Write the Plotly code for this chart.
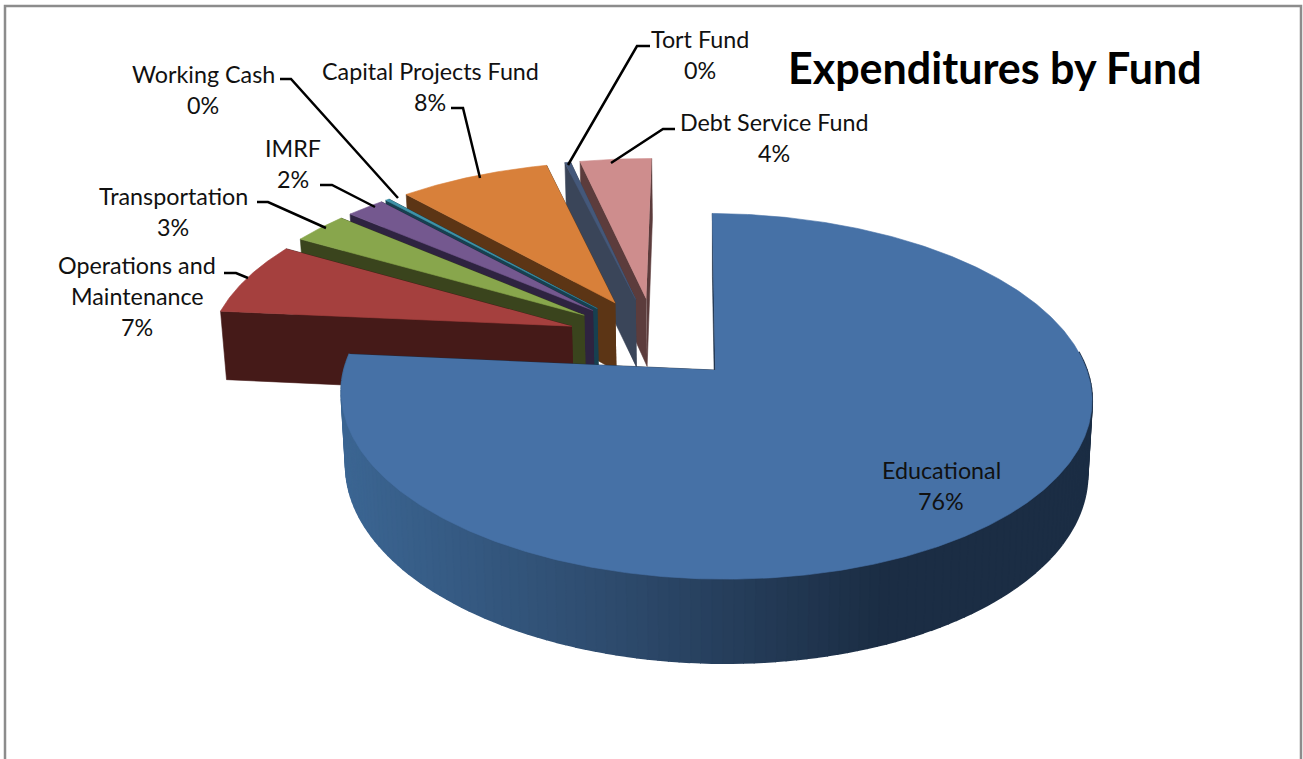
import numpy as np
import plotly.graph_objects as go

# Data, clockwise from the top of the pie
funds = ["Educational", "Operations and Maintenance", "Transportation", "IMRF",
         "Working Cash", "Capital Projects Fund", "Tort Fund", "Debt Service Fund"]
values = [76.0, 6.8, 2.9, 2.0, 0.2, 7.8, 0.3, 3.7]
pct_labels = [76, 7, 3, 2, 0, 8, 0, 4]
title_text = "Expenditures by Fund"

# Style
top_colors = ["#4671a6", "#a5403e", "#88a64c", "#74588f", "#3f93a8", "#d8803a", "#44587a", "#ce8d8d"]
side_colors = ["#1b2d44", "#451a18", "#3a441d", "#2e2340", "#174050", "#5c3515", "#3a4559", "#5c3c3c"]
FONT = "Lato, Carlito, sans-serif"

# Projection of the exploded pie to the page
R, PULL = 362.0, 88.0
P, K = 0.14, 0.47
XO, YO = 655.0, 338.5
HEIGHT = 70.0
SQUEEZE, XV = 0.012, 718.0
START = 0.8


def project(X, Y, low=False):
    X, Y = np.asarray(X, float), np.asarray(Y, float)
    s = 1.0 / (1.0 + P * Y / R)
    x = XO + X * s
    y = YO - K * Y * s
    if low:
        x = XV + (x - XV) * (1 - SQUEEZE)
        y = y + HEIGHT * s
    return x, y


def poly(fig, xs, ys, color, lw=0.6):
    fig.add_trace(go.Scatter(x=xs, y=ys, mode="lines", fill="toself", fillcolor=color,
                             line=dict(color=color, width=lw), hoverinfo="skip", showlegend=False))


def lerp_hex(a, b, t):
    ca = [int(a[i:i + 2], 16) for i in (1, 3, 5)]
    cb = [int(b[i:i + 2], 16) for i in (1, 3, 5)]
    return "#%02x%02x%02x" % tuple(int(round(u + (v - u) * t)) for u, v in zip(ca, cb))


def rim_color(i, x):
    if i != 0:
        return side_colors[i]
    if x < 620:
        return lerp_hex("#3b6592", "#2d4a6c", max(0, (x - 345) / 275))
    return lerp_hex("#2d4a6c", "#1b2d44", min(1, (x - 620) / 260))


fig = go.Figure()
total = sum(values)
edges = START + np.cumsum([0] + values) / total * 360.0

wedges = []
for i in range(len(values)):
    a0, a1 = np.radians(edges[i]), np.radians(edges[i + 1])
    mid = (a0 + a1) / 2
    ax, ay = PULL * np.sin(mid), PULL * np.cos(mid)
    wedges.append((i, a0, a1, ax, ay))

# Painter's order: far wedges first, the big front wedge last
for i, a0, a1, ax, ay in [wedges[j] for j in (7, 6, 5, 4, 3, 2, 1, 0)]:
    ph = np.linspace(a0, a1, max(6, int((a1 - a0) * 120)))
    X, Y = ax + R * np.sin(ph), ay + R * np.cos(ph)

    # Cut faces: the far one first, then the near one
    for ang in (a1, a0):
        ox, oy = ax + R * np.sin(ang), ay + R * np.cos(ang)
        x1, y1 = project([ax, ox], [ay, oy])
        x2, y2 = project([ox, ax], [oy, ay], low=True)
        poly(fig, list(x1) + list(x2), list(y1) + list(y2), side_colors[i])

    # Rim wall, only where it faces the viewer, in strips so it can shade across
    step = 3
    tx, ty = project(X, Y)
    bx, by = project(X, Y, low=True)
    for j in range(0, len(ph) - 1, step):
        k = min(j + step, len(ph) - 1)
        if np.cos(ph[j:k + 1]).mean() > 0.1:
            continue
        xs = list(tx[j:k + 1]) + list(bx[j:k + 1][::-1])
        ys = list(ty[j:k + 1]) + list(by[j:k + 1][::-1])
        poly(fig, xs, ys, rim_color(i, float(np.mean(tx[j:k + 1]))), lw=2.0)

    # Top face
    px, py = project([ax] + list(X), [ay] + list(Y))
    poly(fig, list(px), list(py), top_colors[i])

# Labels (name lines, then the percent)
label_pos = {0: (941, 470), 1: (137, 265), 2: (173, 196), 3: (293, 148),
             4: (203, 74), 5: (430, 71), 6: (700, 39), 7: (774, 122)}
label_lines = {1: ["Operations and", "Maintenance"]}
LINE = 31
ann = []
for i, name in enumerate(funds):
    lines = label_lines.get(i, [name]) + [f"{pct_labels[i]}%"]
    x0, y0 = label_pos[i]
    for n, t in enumerate(lines):
        ann.append(dict(x=x0, y=y0 + n * LINE, text=t, showarrow=False, xanchor="center", yanchor="middle",
                        font=dict(family=FONT, size=23.3, color="#111111")))
ann.append(dict(x=995, y=67, text=f"<b>{title_text}</b>", showarrow=False, xanchor="center", yanchor="middle",
                font=dict(family=FONT, size=43, color="#000000")))

leaders = [
    [(280, 79), (291, 79), (398, 198)],
    [(451, 108), (463, 108), (480, 178)],
    [(650, 46), (637, 46), (568, 165)],
    [(675, 129), (663, 129), (611, 163)],
    [(320, 185), (332, 185), (375, 207)],
    [(257, 202), (268, 202), (326, 228)],
    [(224, 273), (236, 273), (248, 278)],
]
shapes = []
for pts in leaders:
    path = "M " + " L ".join(f"{a} {b}" for a, b in pts)
    shapes.append(dict(type="path", path=path, line=dict(color="#000000", width=2.5), layer="above"))
# Chart frame (open at the bottom of the page)
shapes.append(dict(type="path", path="M 5 770 L 5 6 L 1301 6 L 1301 770",
                   line=dict(color="#8c8c8c", width=2.5), layer="above"))

fig.update_layout(
    width=1303, height=759, margin=dict(l=0, r=0, t=0, b=0),
    paper_bgcolor="#ffffff", plot_bgcolor="#ffffff", showlegend=False,
    xaxis=dict(range=[0, 1303], visible=False, fixedrange=True),
    yaxis=dict(range=[759, 0], visible=False, fixedrange=True),
    annotations=ann, shapes=shapes,
)
fig.write_html("out.html", post_script="document.body.style.margin='0';document.body.style.overflow='hidden';",
               config={"displayModeBar": False})
